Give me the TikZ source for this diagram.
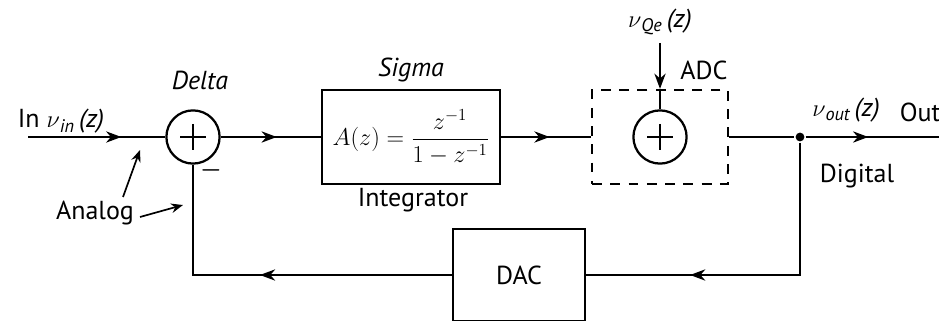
\documentclass[tikz,border=0pt]{standalone}
\usepackage{amsmath}
\usepackage{fontspec}
\setmainfont{PT Sans}
\usetikzlibrary{arrows.meta,decorations.markings}

\begin{document}
\begin{tikzpicture}[x=0.025cm,y=-0.025cm,line width=1.6pt,
	font=\fontsize{18.5}{21}\selectfont,
	sumnode/.style={circle,draw,minimum size=1.33cm,inner sep=0pt,
		path picture={\draw (path picture bounding box.center) +(-13,0) -- +(13,0) +(0,-13) -- +(0,13);}},
	block/.style={draw,rectangle,inner sep=0pt},
	arrowat/.style={postaction={decorate},decoration={markings,
		mark=at position #1 with {\arrow{Stealth[length=3.8mm,width=2.8mm,inset=1.2mm]}}}},
	tipend/.style={-{Stealth[length=3.8mm,width=2.8mm,inset=1.2mm]}},
	pointer/.style={-{Stealth[length=3mm,width=2.4mm,inset=1mm]},line width=1.2pt}]
	\useasboundingbox (0,0) rectangle (939,321);
	% forward path
	\coordinate (in) at (28,137);
	\node[sumnode] (delta) at (193,137) {};
	\node[block,minimum width=4.45cm,minimum height=2.35cm] (sigma) at (411,137)
		{$A(z)=\dfrac{z^{-1}}{1-z^{-1}}$};
	\node[block,dashed,dash pattern=on 7pt off 6pt,minimum width=3.4cm,minimum height=2.35cm] (adc) at (660,137) {};
	\node[sumnode] (qsum) at (660,137) {};
	\node[circle,fill,inner sep=0pt,minimum size=0.22cm] (split) at (800,137) {};
	\coordinate (out) at (939,137);
	\coordinate (qin) at (660,43);
	% feedback
	\node[block,minimum width=3.3cm,minimum height=2.3cm] (dac) at (519,275) {DAC};

	\draw[arrowat=0.68] (in) -- (delta);
	\draw[arrowat=0.56] (delta) -- (sigma);
	\draw[arrowat=0.54] (sigma) -- (adc);
	\draw (adc) -- (split);
	\draw[arrowat=0.47] (split) -- (out);
	\draw[tipend] (qin) -- (adc.north);
	\draw (adc.north) -- (qsum);
	\draw[arrowat=0.7] (split) |- (dac);
	\draw[arrowat=0.52] (dac) -| (delta);

	% labels
	\node[anchor=base west] (inlbl) at (12,128) {In \textit{$\nu$\textsubscript{in}\,(z)}};
	\node (deltalbl) at (200,80) {\textit{Delta}};
	\node (minus) at (211,170) {$\boldsymbol{-}$};
	\node (sigmalbl) at (411,70) {\textit{Sigma}};
	\node (qlbl) at (660,22) {\textit{$\nu$\textsubscript{Qe}\,(z)}};
	\node (outlbl) at (846,110) {\textit{$\nu$\textsubscript{out}\,(z)}};
	\node[anchor=west] (outtxt) at (894,112) {Out};
	\foreach \x/\y/\nm/\txt in {413/200/intlbl/Integrator, 704/70/adclbl/ADC,
		857/176/diglbl/Digital, 95/213/anlbl/Analog}
	{
		\node (\nm) at (\x,\y) {\txt};
	}
	\coordinate (an1s) at (123,197);
	\coordinate (an1e) at (140,150);
	\coordinate (an2s) at (140,217);
	\coordinate (an2e) at (183,205);
	\draw[pointer] (an1s) -- (an1e);
	\draw[pointer] (an2s) -- (an2e);
\end{tikzpicture}
\end{document}
